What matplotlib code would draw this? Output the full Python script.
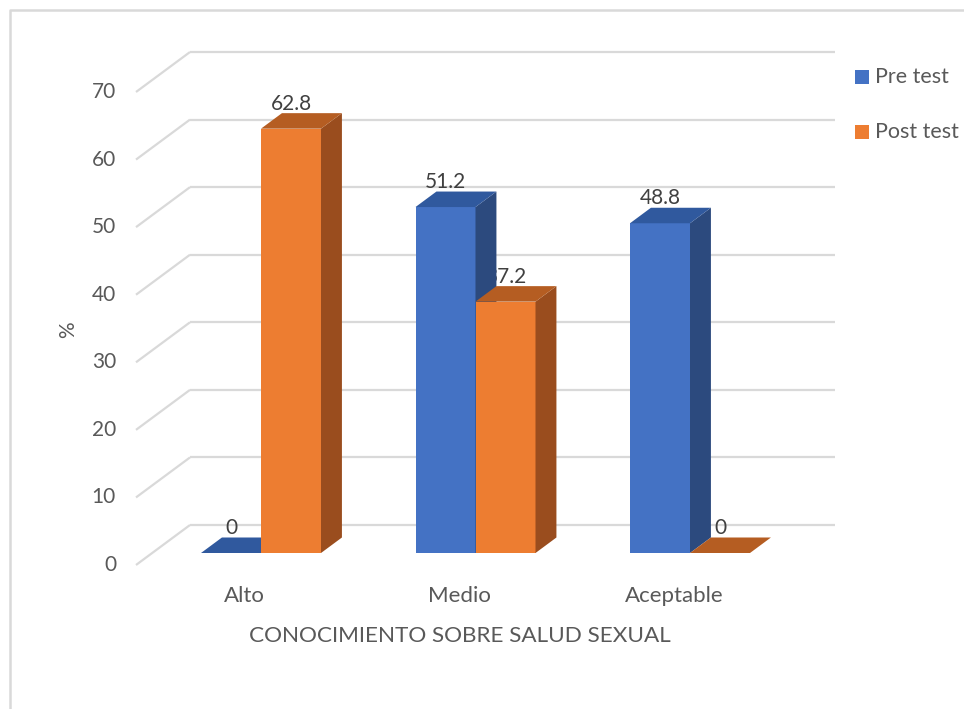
import matplotlib
matplotlib.use("Agg")
import matplotlib.pyplot as plt
from matplotlib.patches import Polygon
from matplotlib.lines import Line2D

# Data
categories = ["Alto", "Medio", "Aceptable"]
series_names = ["Pre test", "Post test"]
pre_test = [0, 51.2, 48.8]
post_test = [62.8, 37.2, 0]
y_ticks = [0, 10, 20, 30, 40, 50, 60, 70]

# Colours: front, top, side faces
face_colors = {
    "Pre test": ("#4472C4", "#30599E", "#2C4A7E"),
    "Post test": ("#ED7D31", "#B55D22", "#9A4D1E"),
}
grid_color = "#D9D9D9"
text_color = "#595959"
label_color = "#404040"

W, H, DPI = 964, 709, 100
plt.rcParams["font.family"] = ["Lato", "DejaVu Sans"]

fig = plt.figure(figsize=(W / DPI, H / DPI), dpi=DPI)
ax = fig.add_axes([0, 0, 1, 1])

# Layout of the oblique projection (pixels)
cat_px0, cat_step = 261.0, 214.5        # x of first group centre, spacing
base_py, px_per_unit = 553.0, 6.757     # baseline of bar fronts, px per %
slope = 1.35                             # horizontal shift per px of depth
bar_w = 60.0 / cat_step                  # bar width in category units
bar_depth = 15.5                         # depth of a bar (px)
wall_depth = 28.0                        # back wall behind bar fronts (px)
front_depth = -12.0                      # floor front edge (px)

ax.set_xlim(-cat_px0 / cat_step, (W - cat_px0) / cat_step)
ax.set_ylim((base_py - H) / px_per_unit, base_py / px_per_unit)
ax.axis("off")


def proj(x, v, d):
    """Map (category x, value v, depth d in px) onto the axes data plane."""
    return (x + slope * d / cat_step, v + d / px_per_unit)


# Back wall and side wall gridlines
side_x = (136 - cat_px0) / cat_step - slope * front_depth / cat_step
wall_right = (835 - cat_px0) / cat_step
for t in y_ticks:
    x0, y0 = proj(side_x, t, front_depth)
    x1, y1 = proj(side_x, t, wall_depth)
    ax.plot([x0, x1], [y0, y1], color=grid_color, lw=1.6, zorder=1, solid_capstyle="butt")
    ax.plot([x1, wall_right], [y1, y1], color=grid_color, lw=1.6, zorder=1, solid_capstyle="butt")
    ax.text(x0 - 20 / cat_step, y0, str(t), ha="right", va="center",
            fontsize=15, color=text_color, zorder=5)


def draw_bar(x_left, value, colors, z):
    front, top, side = colors
    x_right = x_left + bar_w
    if value > 0:
        ax.add_patch(Polygon([proj(x_left, 0, 0), proj(x_right, 0, 0),
                              proj(x_right, value, 0), proj(x_left, value, 0)],
                             closed=True, facecolor=front, edgecolor="none", zorder=z))
        ax.add_patch(Polygon([proj(x_right, 0, 0), proj(x_right, 0, bar_depth),
                              proj(x_right, value, bar_depth), proj(x_right, value, 0)],
                             closed=True, facecolor=side, edgecolor="none", zorder=z))
    ax.add_patch(Polygon([proj(x_left, value, 0), proj(x_right, value, 0),
                          proj(x_right, value, bar_depth), proj(x_left, value, bar_depth)],
                         closed=True, facecolor=top, edgecolor="none", zorder=z))
    # value label above the front centre
    cx = x_left + bar_w / 2
    ax.text(cx, value + 25 / px_per_unit, f"{value:g}", ha="center", va="center",
            fontsize=15, color=label_color, zorder=2)


for i, cat in enumerate(categories):
    draw_bar(i - bar_w, pre_test[i], face_colors["Pre test"], 3)
    draw_bar(i, post_test[i], face_colors["Post test"], 4)
    fx, fy = proj(i, 0, front_depth)
    ax.text(fx, fy - 31 / px_per_unit, cat, ha="center", va="center",
            fontsize=16, color=text_color)

# Axis titles
ax.text((460 - cat_px0) / cat_step, (base_py - 636) / px_per_unit,
        "CONOCIMIENTO SOBRE SALUD SEXUAL", ha="center", va="center",
        fontsize=16.2, color=text_color)
ax.text((68 - cat_px0) / cat_step, (base_py - 330) / px_per_unit, "%",
        rotation=90, ha="center", va="center", fontsize=15, color=text_color)

# Legend
for k, name in enumerate(series_names):
    py = 77 + 55 * k
    fig.patches.append(plt.Rectangle((855 / W, 1 - (py + 7) / H), 14 / W, 14 / H,
                                     transform=fig.transFigure,
                                     facecolor=face_colors[name][0], edgecolor="none"))
    fig.text(875 / W, 1 - py / H, name, ha="left", va="center",
             fontsize=15.5, color=text_color)

# Chart area border
fig.lines.append(Line2D([10 / W, 10 / W, 1.01], [-0.01, 1 - 10 / H, 1 - 10 / H],
                        transform=fig.transFigure, color=grid_color, lw=1.8))

fig.savefig("out.png", dpi=DPI, facecolor="white")
